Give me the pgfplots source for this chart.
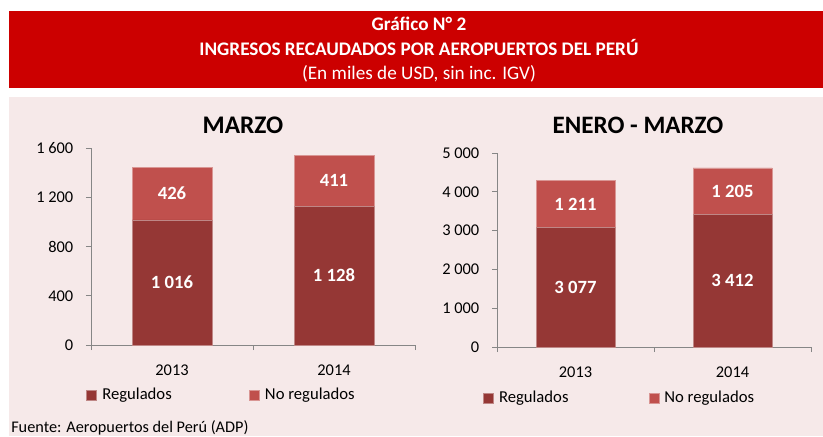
\documentclass[border=0pt]{standalone}
\usepackage{fontspec}
\setmainfont{Carlito}
\usepackage{pgfplots}
\pgfplotsset{compat=1.18}
\definecolor{banner}{RGB}{204,0,0}
\definecolor{panel}{RGB}{246,233,233}
\definecolor{reg}{RGB}{149,55,53}
\definecolor{noreg}{RGB}{192,80,77}
\definecolor{axgray}{RGB}{134,134,134}

\pgfkeys{/pgf/number format/.cd, assume math mode=true, 1000 sep={\ }}

% common look of both panels
\pgfplotsset{
  panel/.style={
    scale only axis,
    ybar stacked,
    xmin=-0.5, xmax=1.5, ymin=0,
    axis lines*=left,
    axis line style={draw=axgray, line width=0.75pt},
    tick style={draw=axgray, line width=0.75pt},
    tick align=outside,
    major tick length=3.75pt,
    xtick={-0.5,0.5,1.5}, xticklabels={},
    extra x ticks={0,1}, extra x tick labels={2013,2014},
    extra x tick style={major tick length=0pt, xticklabel style={yshift=-11pt}},
    ticklabel style={font=\fontsize{12.3}{14}\selectfont, text=black},
    yticklabel style={xshift=-6pt},
    point meta=explicit,
    nodes near coords,
    every node near coord/.style={text=white, font=\fontsize{14}{16}\selectfont\bfseries, anchor=center},
    legend columns=2,
    legend style={draw=none, fill=none, inner sep=0pt,
      font=\fontsize{12.5}{14}\selectfont, anchor=west,
      column sep=2pt},
    legend image code/.code={\fill[##1] (0pt,-3.75pt) rectangle (7.5pt,3.75pt);},
  },
}

\begin{document}
\begin{tikzpicture}
\begin{scope}[x=0.75pt, y=-0.75pt]
  \fill[white] (0,0) rectangle (823,436);
  \fill[banner] (9,11) rectangle (823,88);
  \fill[panel] (9,97) rectangle (823,436);
  \node[text=white, font=\fontsize{14.4}{16}\selectfont\bfseries] at (419,24) {Gráfico N° 2};
  \node[text=white, font=\fontsize{14.4}{16}\selectfont\bfseries] at (419,48) {INGRESOS RECAUDADOS POR AEROPUERTOS DEL PERÚ};
  \node[text=white, font=\fontsize{14.4}{16}\selectfont] at (419,74) {(En miles de USD, sin inc. IGV)};
  \node[font=\fontsize{19}{21}\selectfont\bfseries] at (243,125) {MARZO};
  \node[font=\fontsize{18.8}{21}\selectfont\bfseries] at (638,125) {ENERO - MARZO};
  \node[anchor=west, inner sep=0pt, font=\fontsize{12.2}{14}\selectfont] at (11,428) {Fuente: Aeropuertos del Perú (ADP)};
  \coordinate (L0) at (91,345);
  \coordinate (R0) at (497,347);
\end{scope}

% MARZO
\begin{axis}[panel,
  at={(L0)}, anchor=south west,
  width=243pt, height=147.75pt,
  ymax=1600, ytick={0,400,...,1600},
  bar width=60pt,
  legend style={at={(-0.015,-0.254)}, /tikz/column 2/.style={column sep=56pt}},
]
\addplot+[fill=reg, draw=reg!60!white, line width=0.4pt] coordinates {(0,1016) [1016] (1,1128) [1128]};
\addplot+[fill=noreg, draw=noreg!60!white, line width=0.4pt] coordinates {(0,426) [426] (1,411) [411]};
\legend{Regulados, No regulados}
\end{axis}

% ENERO - MARZO
\begin{axis}[panel,
  at={(R0)}, anchor=south west,
  width=235.5pt, height=145.5pt,
  ymax=5000, ytick={0,1000,...,5000},
  bar width=59.25pt,
  legend style={at={(-0.045,-0.263)}, /tikz/column 2/.style={column sep=58pt}},
]
\addplot+[fill=reg, draw=reg!60!white, line width=0.4pt] coordinates {(0,3077) [3077] (1,3412) [3412]};
\addplot+[fill=noreg, draw=noreg!60!white, line width=0.4pt] coordinates {(0,1211) [1211] (1,1205) [1205]};
\legend{Regulados, No regulados}
\end{axis}
\end{tikzpicture}
\end{document}
